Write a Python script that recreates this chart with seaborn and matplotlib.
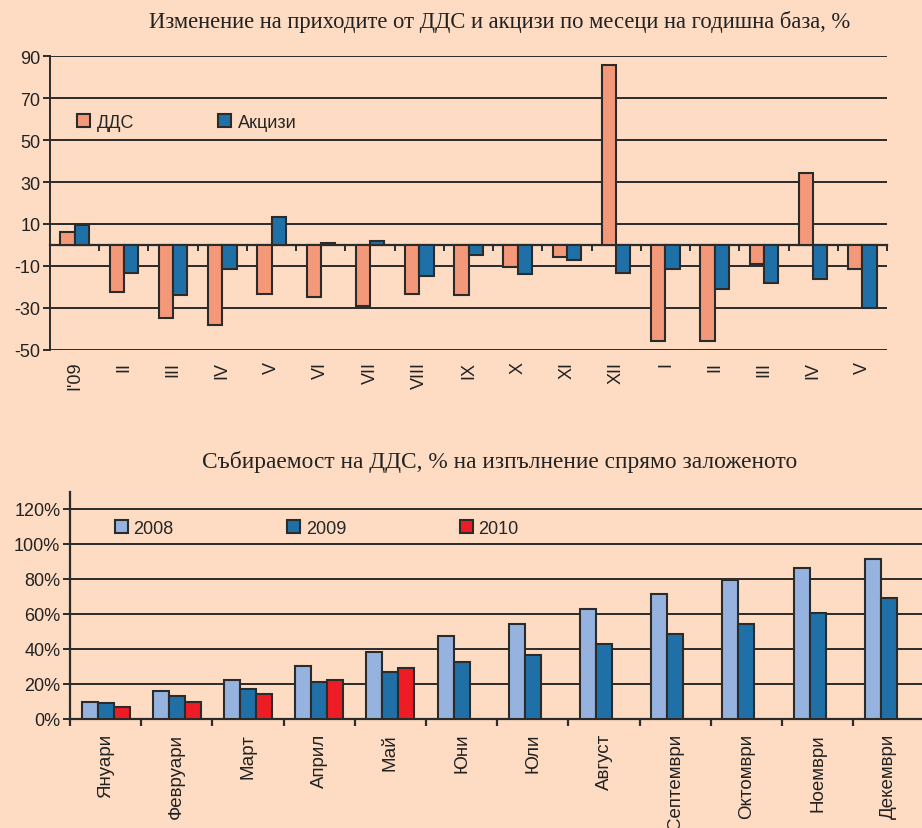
import numpy as np
import pandas as pd
import matplotlib
matplotlib.use("Agg")
import matplotlib.pyplot as plt
import seaborn as sns
from matplotlib.patches import Patch

# ---------------- data ----------------
top_labels = ["I'09", "II", "III", "IV", "V", "VI", "VII", "VIII", "IX", "X", "XI", "XII",
              "I", "II", "III", "IV", "V"]
dds = [6.1, -22.5, -35.0, -38.4, -23.3, -24.9, -29.2, -23.3, -24.0, -10.7, -5.6, 85.7,
       -45.9, -45.9, -9.0, 34.5, -11.5]
akcizi = [9.3, -13.3, -24.0, -11.7, 13.5, 0.8, 1.8, -15.0, -4.9, -14.1, -7.2, -13.3,
          -11.5, -20.8, -18.4, -16.5, -30.0]
top_series = ["ДДС", "Акцизи"]

months = ["Януари", "Февруари", "Март", "Април", "Май", "Юни", "Юли", "Август",
          "Септември", "Октомври", "Ноември", "Декември"]
y2008 = [9.9, 16.0, 22.3, 30.3, 38.5, 47.2, 54.1, 62.7, 71.2, 79.2, 86.3, 91.4]
y2009 = [8.9, 13.3, 17.1, 21.3, 26.7, 32.8, 36.8, 42.7, 48.4, 54.5, 60.4, 69.1]
y2010 = [6.7, 9.9, 14.5, 22.5, 29.0]
years = ["2008", "2009", "2010"]

title_top = "Изменение на приходите от ДДС и акцизи по месеци на годишна база, %"
title_bottom = "Събираемост на ДДС, % на изпълнение спрямо заложеното"

# ---------------- styling ----------------
BG = "#FDDCC3"
DARK = "#2B2B2B"
top_palette = {"ДДС": "#F4987A", "Акцизи": "#2070A8"}
bot_palette = {"2008": "#95B3DE", "2009": "#2070A8", "2010": "#EE1C25"}

sns.set_theme(style="white")
plt.rcParams["font.family"] = ["Liberation Sans", "DejaVu Sans"]
plt.rcParams["axes.facecolor"] = BG
plt.rcParams["figure.facecolor"] = BG
plt.rcParams["axes.unicode_minus"] = False

W, H = 922, 829
fig = plt.figure(figsize=(W / 100, H / 100), dpi=100)

def fx(px):
    return px / W

def fy(py):
    return 1 - py / H

FS = 13
FSX = 13.5

# ---------------- top chart ----------------
df_top = pd.DataFrame({
    "pos": list(range(len(top_labels))) * 2,
    "series": [top_series[0]] * len(dds) + [top_series[1]] * len(akcizi),
    "value": dds + akcizi,
})

ax1 = fig.add_axes([fx(50), fy(350.7), fx(887) - fx(50), fy(57.3) - fy(350.7)])
sns.barplot(data=df_top, x="pos", y="value", hue="series", hue_order=top_series,
            palette=top_palette, saturation=1, edgecolor=DARK, linewidth=1.5, width=0.58,
            errorbar=None, legend=False, ax=ax1, zorder=3)
ax1.set_facecolor(BG)
ax1.set_ylim(-50, 90)
ax1.set_xlim(-0.5, len(top_labels) - 0.5)
ax1.set_yticks(np.arange(-50, 91, 20))
ax1.yaxis.grid(True, color=DARK, linewidth=1.4, zorder=0)
ax1.set_axisbelow(True)
ax1.set_xticks(range(len(top_labels)))
ax1.set_xticklabels(top_labels, rotation=90, fontsize=FS, color="#222")
ax1.tick_params(axis="x", length=0, pad=8)
ax1.tick_params(axis="y", length=5, width=1.4, color=DARK, direction="out",
                labelsize=FS, labelcolor="#222", pad=2, left=True)
for s in ["top", "right", "bottom"]:
    ax1.spines[s].set_visible(False)
ax1.spines["left"].set_color(DARK)
ax1.spines["left"].set_linewidth(1.4)
ax1.set_xlabel("")
ax1.set_ylabel("")
# zero axis with category separators
sec = ax1.secondary_xaxis(50 / 140)
sec.set_xticks(np.arange(len(top_labels)) + 0.5)
sec.tick_params(axis="x", length=4, width=1.4, color=DARK, direction="out", labelbottom=False)
sec.spines["bottom"].set_color(DARK)
sec.spines["bottom"].set_linewidth(1.6)

handles = [Patch(facecolor=top_palette[s], edgecolor=DARK, linewidth=1.5) for s in top_series]
ax1.legend(handles, top_series, loc="center left", bbox_to_anchor=((77 - 50) / 837, (350.7 - 123) / 293.4),
           ncol=2, frameon=False, fontsize=FS, handlelength=0.72, handleheight=0.72,
           handletextpad=0.4, columnspacing=4.6, borderpad=0, borderaxespad=0)

fig.text(fx(500), fy(22), title_top, ha="center", va="center", fontsize=16.3,
         family=["Liberation Serif", "DejaVu Serif"], color="#222")

# ---------------- bottom chart ----------------
rows = []
for vals, yr in zip([y2008, y2009, y2010], years):
    for i, v in enumerate(vals):
        rows.append({"month": months[i], "year": yr, "value": v / 100})
df_bot = pd.DataFrame(rows)

ax2 = fig.add_axes([fx(70), fy(720), fx(924.4) - fx(70), fy(493.3) - fy(720)])
sns.barplot(data=df_bot, x="month", y="value", hue="year", order=months, hue_order=years,
            palette=bot_palette, saturation=1, edgecolor=DARK, linewidth=1.5, width=0.674,
            errorbar=None, legend=False, ax=ax2, zorder=3)
ax2.set_facecolor(BG)
ax2.set_ylim(0, 1.295)
ax2.set_xlim(-0.5, len(months) - 0.5)
ax2.set_yticks(np.arange(0, 1.21, 0.2))
ax2.set_yticklabels([f"{int(round(t * 100))}%" for t in np.arange(0, 1.21, 0.2)])
ax2.yaxis.grid(True, color=DARK, linewidth=1.4, zorder=0)
ax2.set_axisbelow(True)
ax2.set_xticks(np.arange(len(months)) - 0.5, minor=True)
ax2.set_xticks(range(len(months)))
ax2.set_xticklabels(months, rotation=90, fontsize=FSX, color="#222")
ax2.tick_params(axis="x", which="major", length=0, pad=10)
ax2.tick_params(axis="x", which="minor", length=5, width=1.6, color=DARK, direction="out", bottom=True)
ax2.tick_params(axis="y", length=5, width=1.4, color=DARK, direction="out",
                labelsize=FS, labelcolor="#222", pad=2, left=True)
for s in ["top", "right"]:
    ax2.spines[s].set_visible(False)
for s in ["left", "bottom"]:
    ax2.spines[s].set_color(DARK)
    ax2.spines[s].set_linewidth(1.6)
ax2.set_xlabel("")
ax2.set_ylabel("")

handles2 = [Patch(facecolor=bot_palette[y], edgecolor=DARK, linewidth=1.5) for y in years]
ax2.legend(handles2, years, loc="center left", bbox_to_anchor=((115 - 70) / 854.4, (720 - 529.5) / 226.7),
           ncol=3, frameon=False, fontsize=FS, handlelength=0.72, handleheight=0.72,
           handletextpad=0.3, columnspacing=6.3, borderpad=0, borderaxespad=0)

fig.text(fx(500), fy(462), title_bottom, ha="center", va="center", fontsize=16.8,
         family=["Liberation Serif", "DejaVu Serif"], color="#222")

fig.savefig("out.png", dpi=100, facecolor=BG)
